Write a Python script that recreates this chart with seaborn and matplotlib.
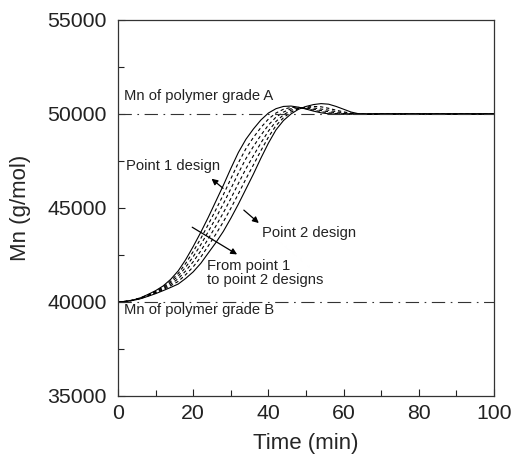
import matplotlib
matplotlib.use("Agg")
import matplotlib.pyplot as plt
import seaborn as sns
import pandas as pd
from matplotlib.ticker import MultipleLocator

# --- DATA ---
time_min = [0, 2, 4, 6, 8, 10, 12, 14, 16, 18, 20, 22, 24, 26, 28, 30, 32, 34,
            36, 38, 40, 42, 44, 46, 48, 50, 52, 54, 56, 58, 60, 62, 64, 66, 68, 70, 100]

point1_design = [40000, 40030, 40100, 40220, 40400, 40600, 40850, 41200, 41650, 42250,
                 42950, 43700, 44500, 45350, 46200, 47100, 47950, 48650, 49200, 49680,
                 50050, 50280, 50400, 50420, 50360, 50260, 50150, 50060, 50010, 49990,
                 49990, 50000, 50000, 50000, 50000, 50000, 50000]
mid_design_1 = [40000, 40030, 40095, 40210, 40380, 40570, 40800, 41110, 41510, 42050,
                42680, 43370, 44120, 44900, 45700, 46550, 47400, 48150, 48750, 49280,
                49730, 50050, 50250, 50350, 50350, 50280, 50200, 50120, 50060, 50020,
                50000, 49990, 50000, 50000, 50000, 50000, 50000]
mid_design_2 = [40000, 40025, 40090, 40200, 40360, 40540, 40750, 41030, 41370, 41850,
                42410, 43040, 43740, 44460, 45220, 46020, 46850, 47620, 48270, 48870,
                49410, 49830, 50100, 50280, 50330, 50320, 50250, 50180, 50120, 50060,
                50020, 50000, 49990, 50000, 50000, 50000, 50000]
mid_design_3 = [40000, 40025, 40090, 40190, 40340, 40500, 40700, 40940, 41230, 41650,
                42140, 42710, 43360, 44030, 44740, 45500, 46300, 47080, 47780, 48460,
                49090, 49600, 49950, 50200, 50300, 50340, 50320, 50260, 50200, 50120,
                50060, 50020, 50000, 49990, 50000, 50000, 50000]
mid_design_4 = [40000, 40020, 40085, 40180, 40320, 40470, 40650, 40860, 41090, 41450,
                41870, 42380, 42980, 43600, 44260, 44980, 45750, 46540, 47290, 48050,
                48770, 49380, 49800, 50100, 50280, 50370, 50400, 50380, 50300, 50200,
                50110, 50040, 50000, 49990, 50000, 50000, 50000]
point2_design = [40000, 40020, 40080, 40170, 40300, 40440, 40600, 40770, 40950, 41250,
                 41600, 42050, 42600, 43150, 43750, 44450, 45200, 46000, 46800, 47650,
                 48450, 49150, 49650, 50000, 50250, 50400, 50500, 50550, 50520, 50400,
                 50250, 50100, 50010, 49980, 49990, 50000, 50000]

grade_A_mn = 50000
grade_B_mn = 40000

solid_curves = {'Point 1 design': point1_design, 'Point 2 design': point2_design}
dashed_curves = {'mid 1': mid_design_1, 'mid 2': mid_design_2,
                 'mid 3': mid_design_3, 'mid 4': mid_design_4}

sns.set_theme(style="ticks")
plt.rcParams['font.family'] = ['Liberation Sans', 'DejaVu Sans']

fig = plt.figure(figsize=(5.12, 4.54), dpi=100)
ax = fig.add_axes([0.2305, 0.128, 0.7345, 0.828])

for name, vals in dashed_curves.items():
    df = pd.DataFrame({'t': time_min, 'mn': vals})
    sns.lineplot(data=df, x='t', y='mn', ax=ax, color='black', lw=0.8,
                 linestyle=(0, (3, 2.5)))
for name, vals in solid_curves.items():
    df = pd.DataFrame({'t': time_min, 'mn': vals})
    sns.lineplot(data=df, x='t', y='mn', ax=ax, color='black', lw=0.8)

for level in (grade_A_mn, grade_B_mn):
    ax.axhline(level, color='#333333', lw=0.8, linestyle=(0, (12, 5, 1.5, 5)))

ax.set_xlim(0, 100)
ax.set_ylim(35000, 55000)
ax.xaxis.set_major_locator(MultipleLocator(20))
ax.xaxis.set_minor_locator(MultipleLocator(10))
ax.yaxis.set_major_locator(MultipleLocator(5000))
ax.yaxis.set_minor_locator(MultipleLocator(2500))
ax.tick_params(which='both', direction='in', top=False, right=False,
               labelsize=15.3, colors='#222222', width=0.8)
ax.tick_params(which='major', length=5)
ax.tick_params(which='minor', length=4)
ax.tick_params(axis='x', pad=6)
ax.tick_params(axis='y', pad=8)
for sp in ax.spines.values():
    sp.set_linewidth(0.9)
    sp.set_color('#333333')

ax.set_xlabel('Time (min)', fontsize=16, labelpad=7)
ax.set_ylabel('Mn (g/mol)', fontsize=16, labelpad=12)

ann = dict(fontsize=10.6, color='#222222')
ax.text(1.5, 50950, 'Mn of polymer grade A', ha='left', va='center', **ann)
ax.text(1.5, 39550, 'Mn of polymer grade B', ha='left', va='center', **ann)
ax.text(2, 47250, 'Point 1 design', ha='left', va='center', **ann)
ax.text(38.3, 43650, 'Point 2 design', ha='left', va='center', **ann)
ax.text(23.6, 41550, 'From point 1\nto point 2 designs', ha='left', va='center',
        linespacing=1.0, **ann)

arrow = dict(arrowstyle='-|>', color='black', lw=0.9, mutation_scale=9)
ax.annotate('', xy=(24.3, 46650), xytext=(28.5, 45950), arrowprops=arrow)
ax.annotate('', xy=(38.0, 44100), xytext=(32.9, 44980), arrowprops=arrow)
ax.annotate('', xy=(32.3, 42450), xytext=(19.1, 44050), arrowprops=arrow)

fig.savefig('out.png', dpi=100)
